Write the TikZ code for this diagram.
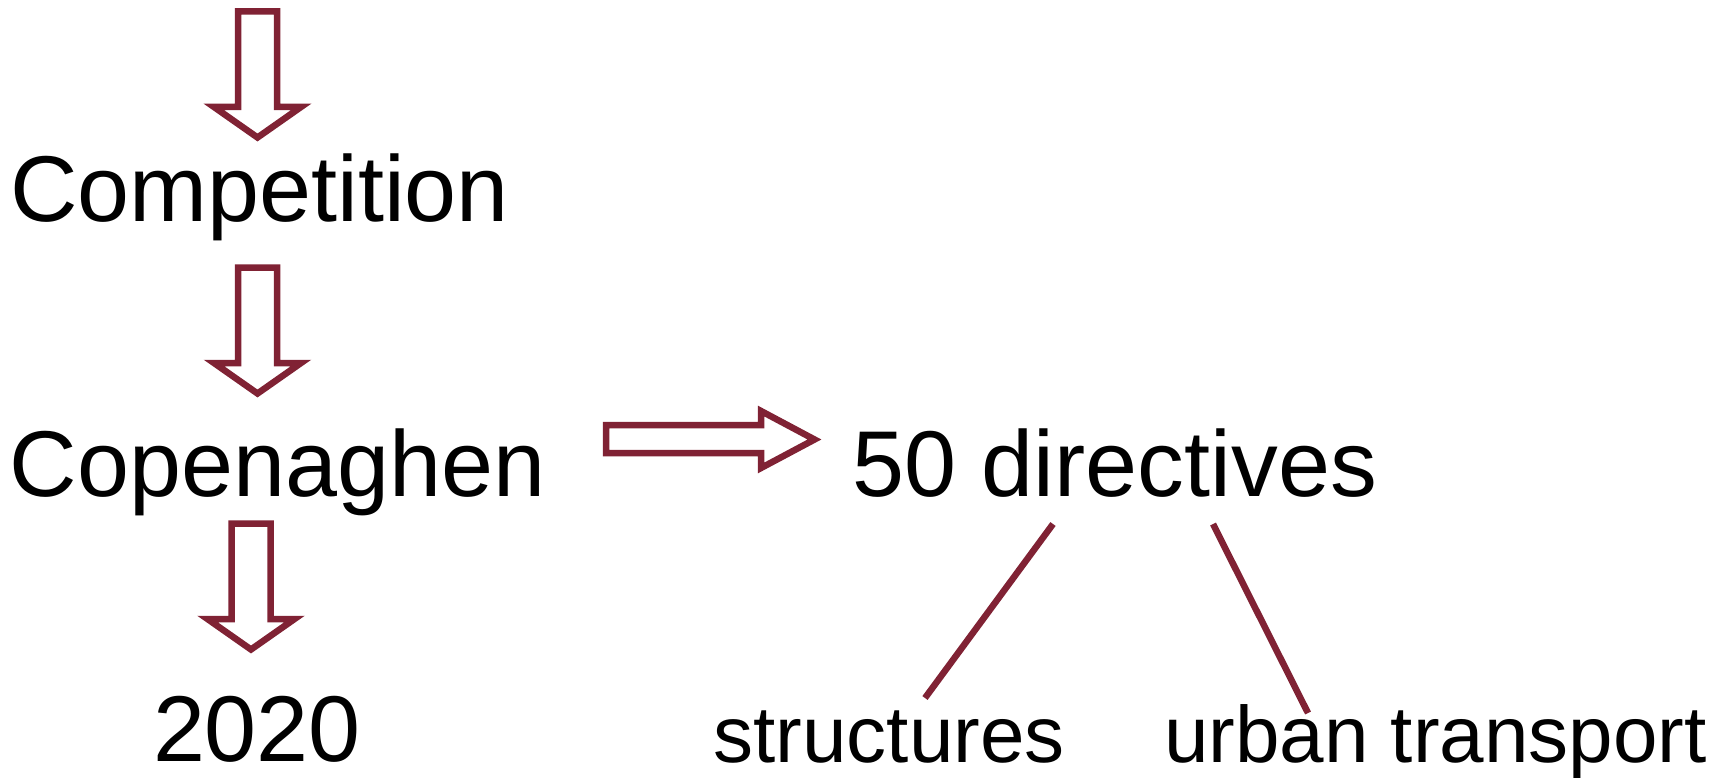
\documentclass[tikz,border=0pt]{standalone}
\usepackage{fontspec}
\setmainfont{Liberation Sans}
\definecolor{wine}{RGB}{128,34,52}
\begin{document}
\begin{tikzpicture}[x=1pt,y=-1pt,
  bigtext/.style={font=\fontsize{93.5}{110}\selectfont, inner sep=0pt, anchor=base},
  smalltext/.style={font=\fontsize{80}{96}\selectfont, inner sep=0pt, anchor=base},
  blockarrow/.style={draw=wine, line width=6.5pt, line join=miter, fill=white},
  branch/.style={draw=wine, line width=6.5pt}]
\useasboundingbox (0,0) rectangle (1724,778);
% text nodes
\node[bigtext] (comp) at (259.5,222) {Competition};
\node[bigtext] (cope) at (277.5,496) {Copenaghen};
\node[bigtext] (dir) at (1114.5,496) {50 directives};
\node[bigtext] (year) at (257,761) {2020};
\node[smalltext] (struct) at (889,762) {structures};
\node[smalltext] (urban) at (1435.5,762) {urban transport};
% down block arrows
\foreach \dx/\dy in {0/0, 0/256, -6.5/512}{
  \draw[blockarrow, shift={(\dx,\dy)}]
    (238,11.5) -- (277,11.5) -- (277,107) -- (301,107) -- (257.5,137.5)
    -- (214,107) -- (238,107) -- cycle;
}
% right block arrow
\draw[blockarrow]
  (606,425) -- (761,425) -- (761,411) -- (814.5,439.5) -- (761,468)
  -- (761,453) -- (606,453) -- cycle;
% branches
\coordinate (b1a) at (1053,524);
\coordinate (b1b) at (925,698);
\coordinate (b2a) at (1213,524);
\coordinate (b2b) at (1308,713);
\draw[branch] (b1a) -- (b1b);
\draw[branch] (b2a) -- (b2b);
\end{tikzpicture}
\end{document}
